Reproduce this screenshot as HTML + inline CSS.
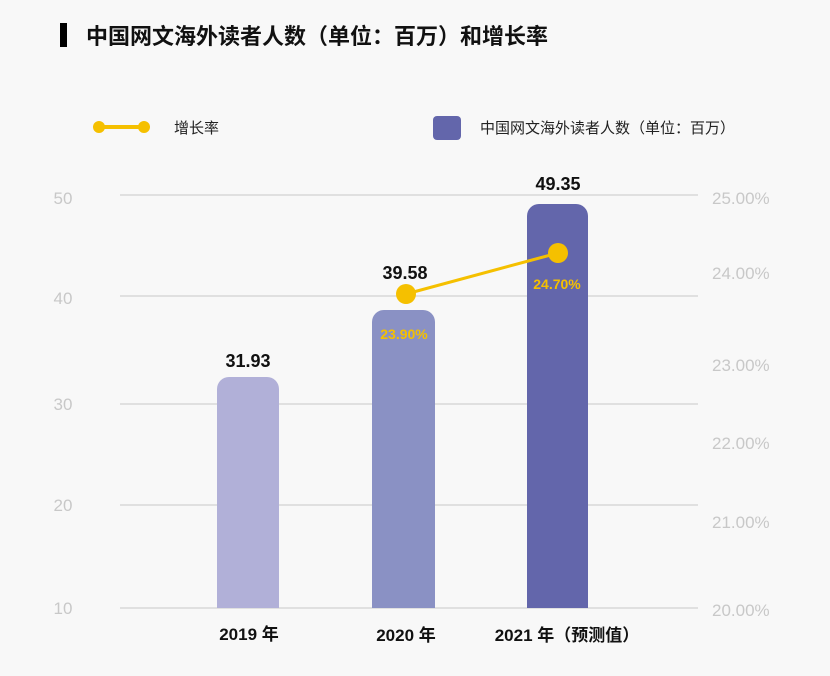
<!DOCTYPE html>
<html><head><meta charset="utf-8"><style>
body{margin:0;background:#f8f8f8;}
svg{display:block;font-family:"Liberation Sans","Noto Sans CJK SC",sans-serif;}
</style></head><body>
<svg width="830" height="676" viewBox="0 0 830 676">
<rect width="830" height="676" fill="#f8f8f8"/>
<rect x="60" y="23" width="7" height="24" fill="#000"/>
<text x="86" y="44" font-size="22" font-weight="bold" fill="#111">中国网文海外读者人数（单位：百万）和增长率</text>
<line x1="99" y1="127" x2="144" y2="127" stroke="#f5c000" stroke-width="4"/>
<circle cx="99" cy="127" r="6" fill="#f5c000"/><circle cx="144" cy="127" r="6" fill="#f5c000"/>
<text x="174" y="133" font-size="15" fill="#222">增长率</text>
<rect x="433" y="116" width="28" height="24" rx="4" fill="#6366ab"/>
<text x="480" y="133" font-size="15" fill="#222">中国网文海外读者人数（单位：百万）</text>
<g stroke="#e0e0e0" stroke-width="2">
<line x1="120" y1="195" x2="698" y2="195"/><line x1="120" y1="296" x2="698" y2="296"/>
<line x1="120" y1="404" x2="698" y2="404"/><line x1="120" y1="505" x2="698" y2="505"/>
<line x1="120" y1="608" x2="698" y2="608"/>
</g>
<g font-size="17" fill="#c8c8c8" text-anchor="middle">
<text x="63" y="204">50</text><text x="63" y="304">40</text><text x="63" y="410">30</text><text x="63" y="511">20</text><text x="63" y="614">10</text>
</g>
<g font-size="17" fill="#c8c8c8">
<text x="712" y="204">25.00%</text><text x="712" y="279">24.00%</text><text x="712" y="371">23.00%</text><text x="712" y="449">22.00%</text><text x="712" y="528">21.00%</text><text x="712" y="616">20.00%</text>
</g>
<path d="M217 608V389a12 12 0 0 1 12-12h38a12 12 0 0 1 12 12V608Z" fill="#b1b0d8"/>
<path d="M372 608V322a12 12 0 0 1 12-12h39a12 12 0 0 1 12 12V608Z" fill="#8a91c4"/>
<path d="M527 608V216a12 12 0 0 1 12-12h37a12 12 0 0 1 12 12V608Z" fill="#6366ab"/>
<g font-size="18" font-weight="bold" fill="#111" text-anchor="middle">
<text x="248" y="367">31.93</text><text x="405" y="279">39.58</text><text x="558" y="190">49.35</text>
</g>
<line x1="406" y1="294" x2="558" y2="253" stroke="#f5c000" stroke-width="3"/>
<circle cx="406" cy="294" r="10" fill="#f5c000"/><circle cx="558" cy="253" r="10" fill="#f5c000"/>
<g font-size="14" font-weight="bold" fill="#f5c000" text-anchor="middle">
<text x="404" y="339">23.90%</text><text x="557" y="289">24.70%</text>
</g>
<g font-size="17" font-weight="bold" fill="#111" text-anchor="middle">
<text x="249" y="640">2019 年</text><text x="406" y="641">2020 年</text><text x="567" y="641">2021 年（预测值）</text>
</g>
</svg>
</body></html>
